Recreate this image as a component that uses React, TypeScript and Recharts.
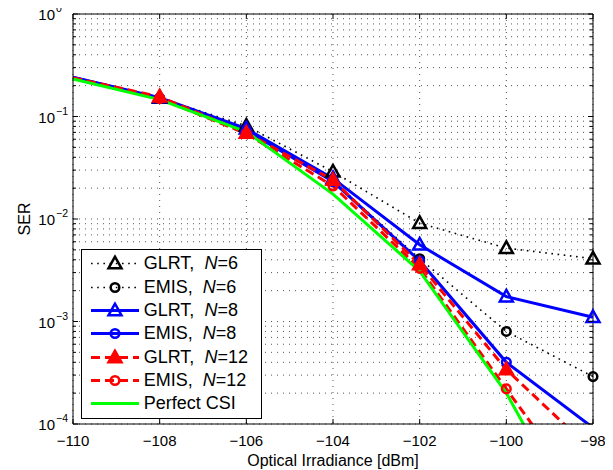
import React from "react";
import {
  CartesianGrid,
  Legend,
  Line,
  LineChart,
  ReferenceLine,
  XAxis,
  YAxis,
} from "recharts";

// optical irradiance [dBm]
const irradiance = [-110, -108, -106, -104, -102, -100, -98];

// SER per scheme
const glrtN6 = [0.241, 0.152, 0.081, 0.0289, 0.0091, 0.0052, 0.0041];
const emisN6 = [0.239, 0.151, 0.074, 0.0235, 0.0041, 0.0008, 0.00029];
const glrtN8 = [0.242, 0.153, 0.076, 0.0249, 0.0056, 0.00175, 0.0011];
const emisN8 = [0.24, 0.151, 0.073, 0.0232, 0.0039, 0.0004, 0.000092];
const glrtN12 = [0.238, 0.156, 0.069, 0.024, 0.0036, 0.00034, 0.000054];
const emisN12 = [0.236, 0.15, 0.068, 0.021, 0.0033, 0.00022, 0.000015];
const perfectCsi = [0.232, 0.146, 0.071, 0.0175, 0.0031, 0.0002, 0.000006];

const xTicks = [-110, -108, -106, -104, -102, -100, -98];
const yDecades = [1e-4, 1e-3, 1e-2, 1e-1, 1];
const yExponents = ["\u22124", "\u22123", "\u22122", "\u22121", "0"];

// decade ticks plus the minor 2..9 ticks (used for the minor grid)
const yTicks: number[] = [];
yDecades.forEach((d, i) => {
  if (i === yDecades.length - 1) {
    yTicks.push(d);
    return;
  }
  for (let k = 1; k <= 9; k++) yTicks.push(d * k);
});

const data = irradiance.map((x, i) => ({
  x,
  glrtN6: glrtN6[i],
  emisN6: emisN6[i],
  glrtN8: glrtN8[i],
  emisN8: emisN8[i],
  glrtN12: glrtN12[i],
  emisN12: emisN12[i],
  perfectCsi: perfectCsi[i],
}));

type Marker = "triangle" | "circle" | "none";

interface SeriesDef {
  key: string;
  label: string;
  n?: string;
  color: string;
  width: number;
  dash?: string;
  marker: Marker;
  filled?: boolean;
}

const series: SeriesDef[] = [
  { key: "glrtN6", label: "GLRT,  ", n: "6", color: "#000000", width: 1.6, dash: "1.6 4.6", marker: "triangle" },
  { key: "emisN6", label: "EMIS,  ", n: "6", color: "#000000", width: 1.6, dash: "1.6 4.6", marker: "circle" },
  { key: "glrtN8", label: "GLRT,  ", n: "8", color: "#0000ff", width: 3, marker: "triangle" },
  { key: "emisN8", label: "EMIS,  ", n: "8", color: "#0000ff", width: 3, marker: "circle" },
  { key: "glrtN12", label: "GLRT,  ", n: "12", color: "#ff0000", width: 3, dash: "9 5", marker: "triangle", filled: true },
  { key: "emisN12", label: "EMIS,  ", n: "12", color: "#ff0000", width: 3, dash: "9 5", marker: "circle" },
  { key: "perfectCsi", label: "Perfect CSI", color: "#00ff00", width: 3, marker: "none" },
];

// chart covers the whole 613x470 window (body margin cancelled below)
const W = 613;
const H = 470;
const PLOT_LEFT = 73;
const PLOT_RIGHT = 593;
const PLOT_TOP = 14;
const PLOT_BOTTOM = 424;
const FONT = "'Liberation Sans', Arial, Helvetica, sans-serif";

function MarkerShape({ cx, cy, s }: { cx: number; cy: number; s: SeriesDef }) {
  if (s.marker === "triangle") {
    return (
      <polygon
        points={`${cx},${cy - 6.8} ${cx - 6.5},${cy + 4.8} ${cx + 6.5},${cy + 4.8}`}
        fill={s.filled ? s.color : "none"}
        stroke={s.color}
        strokeWidth={2.5}
        strokeLinejoin="miter"
      />
    );
  }
  if (s.marker === "circle") {
    return <circle cx={cx} cy={cy} r={4.3} fill="none" stroke={s.color} strokeWidth={2.5} />;
  }
  return null;
}

function makeDot(s: SeriesDef) {
  return (p: any) => {
    const k = `${s.key}-${p.index}`;
    const v = p.value;
    if (s.marker === "none" || p.payload.x === -110 || v < 1e-4 || v > 1) {
      return <g key={k} />;
    }
    return (
      <g key={k}>
        <MarkerShape cx={p.cx} cy={p.cy} s={s} />
      </g>
    );
  };
}

function XTick(props: any) {
  const { x, payload } = props;
  const v = payload.value as number;
  const txt = v < 0 ? `\u2212${Math.abs(v)}` : String(v);
  return (
    <g>
      <line x1={x} x2={x} y1={PLOT_BOTTOM} y2={PLOT_BOTTOM - 5} stroke="#000" />
      <line x1={x} x2={x} y1={PLOT_TOP} y2={PLOT_TOP + 5} stroke="#000" />
      <text x={x} y={446} textAnchor="middle" fontSize={15} fontFamily={FONT} fill="#000">
        {txt}
      </text>
    </g>
  );
}

function YTick(props: any) {
  const { y, payload } = props;
  const v = payload.value as number;
  const idx = yDecades.findIndex((d) => Math.abs(v / d - 1) < 1e-6);
  const len = idx >= 0 ? 5 : 3;
  return (
    <g>
      <line x1={PLOT_LEFT} x2={PLOT_LEFT + len} y1={y} y2={y} stroke="#000" />
      <line x1={PLOT_RIGHT} x2={PLOT_RIGHT - len} y1={y} y2={y} stroke="#000" />
      {idx >= 0 && (
        <g fontFamily={FONT} fill="#000">
          <text x={55} y={y + 6} textAnchor="end" fontSize={15}>
            10
          </text>
          <text x={56} y={y - 2} textAnchor="start" fontSize={10.5}>
            {yExponents[idx]}
          </text>
        </g>
      )}
    </g>
  );
}

function LegendBox() {
  return (
    <div
      style={{
        border: "1px solid #000",
        background: "#fff",
        width: 179,
        height: 166,
        paddingTop: 2,
        boxSizing: "content-box",
        fontFamily: FONT,
        fontSize: 18,
        color: "#000",
      }}
    >
      {series.map((s) => (
        <div key={s.key} style={{ display: "flex", alignItems: "center", height: 23.3 }}>
          <svg width={62} height={23} style={{ flex: "none" }}>
            <line
              x1={9}
              x2={57}
              y1={11.5}
              y2={11.5}
              stroke={s.color}
              strokeWidth={s.width}
              strokeDasharray={s.dash}
            />
            <MarkerShape cx={33} cy={11.5} s={s} />
          </svg>
          <span style={{ whiteSpace: "pre", lineHeight: "23px" }}>
            {s.label}
            {s.n && (
              <>
                <i>N</i>={s.n}
              </>
            )}
          </span>
        </div>
      ))}
    </div>
  );
}

export default function App() {
  return (
    <div style={{ margin: "-8px 0 0 -8px", width: W, height: H }}>
      <LineChart
        width={W}
        height={H}
        data={data}
        margin={{ top: PLOT_TOP, right: W - PLOT_RIGHT, left: 0, bottom: 0 }}
      >
        <CartesianGrid stroke="#555" strokeDasharray="1 5" strokeWidth={1} />
        <XAxis
          dataKey="x"
          type="number"
          domain={[-110, -98]}
          ticks={xTicks}
          interval={0}
          height={H - PLOT_BOTTOM}
          tickLine={false}
          axisLine={{ stroke: "#000" }}
          tick={<XTick />}
          label={{
            value: "Optical Irradiance [dBm]",
            content: () => (
              <text
                x={(PLOT_LEFT + PLOT_RIGHT) / 2}
                y={465.5}
                textAnchor="middle"
                fontSize={16}
                fontFamily={FONT}
                fill="#000"
              >
                Optical Irradiance [dBm]
              </text>
            ),
          }}
        />
        <YAxis
          scale="log"
          domain={[1e-4, 1]}
          allowDataOverflow
          ticks={yTicks}
          interval={0}
          width={PLOT_LEFT}
          tickLine={false}
          axisLine={{ stroke: "#000" }}
          tick={<YTick />}
          label={{
            value: "SER",
            content: () => (
              <text
                x={24}
                y={(PLOT_TOP + PLOT_BOTTOM) / 2}
                transform={`rotate(-90 24 ${(PLOT_TOP + PLOT_BOTTOM) / 2})`}
                textAnchor="middle"
                dominantBaseline="central"
                fontSize={16}
                fontFamily={FONT}
                fill="#000"
              >
                SER
              </text>
            ),
          }}
        />
        <ReferenceLine y={1} stroke="#000" />
        <ReferenceLine x={-98} stroke="#000" />
        {series.map((s) => (
          <Line
            key={s.key}
            type="linear"
            dataKey={s.key}
            stroke={s.color}
            strokeWidth={s.width}
            strokeDasharray={s.dash}
            dot={makeDot(s)}
            activeDot={false}
            isAnimationActive={false}
          />
        ))}
        <Legend
          layout="vertical"
          align="center"
          verticalAlign="middle"
          content={() => <LegendBox />}
          wrapperStyle={{ left: 80.7, top: 249.3, width: 181, height: 170 }}
        />
      </LineChart>
    </div>
  );
}
